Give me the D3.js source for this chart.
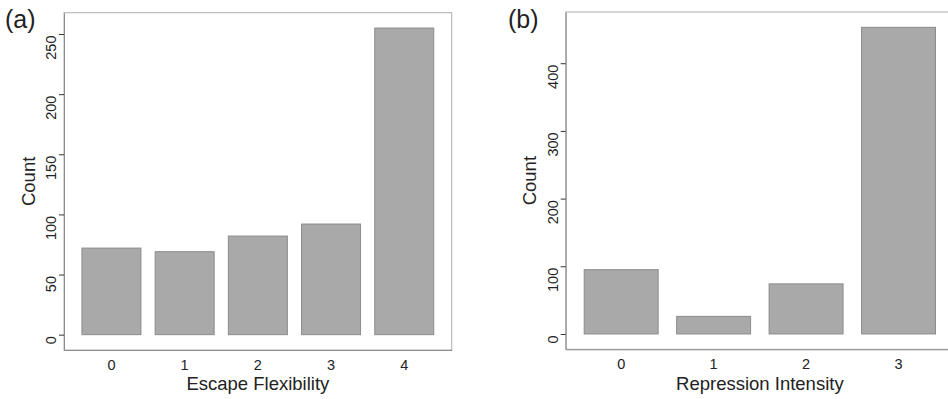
<!DOCTYPE html>
<html>
<head>
<meta charset="utf-8">
<script src="https://cdn.jsdelivr.net/npm/d3@7"></script>
<style>
  body { margin: 0; background: #fff; }
  svg, svg text { font-family: "Liberation Sans", Arial, sans-serif; }
</style>
</head>
<body>
<svg id="chart" width="948" height="399"></svg>
<script>
// panel (a)
const escapeCats = ["0", "1", "2", "3", "4"];
const escapeCounts = [72, 69, 82, 92, 255];
const escapeTicks = [0, 50, 100, 150, 200, 250];

// panel (b)
const repressCats = ["0", "1", "2", "3"];
const repressCounts = [95, 26, 74, 453];
const repressTicks = [0, 100, 200, 300, 400];

const svg = d3.select("#chart");

function drawPanel(opts) {
    const { cats, counts, ticks, left, right, top, bottom, padIn, padOut, xTitle, tag, tagX, countX } = opts;

    const g = svg.append("g");

    const maxVal = d3.max(counts);
    const yScale = d3.scaleLinear()
        .domain([-0.05 * maxVal, 1.05 * maxVal])
        .range([bottom, top]);

    const xScale = d3.scaleBand()
        .domain(cats)
        .range([left, right])
        .paddingInner(padIn)
        .paddingOuter(padOut);

    // frame
    g.append("rect")
        .attr("x", left)
        .attr("y", top)
        .attr("width", right - left)
        .attr("height", bottom - top)
        .attr("fill", "none")
        .attr("stroke", "#b0b0b0")
        .attr("stroke-width", 1);

    // bars
    g.selectAll(".bar")
        .data(counts)
        .enter()
        .append("rect")
        .attr("class", "bar")
        .attr("x", (d, i) => xScale(cats[i]))
        .attr("y", d => yScale(d))
        .attr("width", xScale.bandwidth())
        .attr("height", d => yScale(0) - yScale(d))
        .attr("fill", "#a9a9a9")
        .attr("stroke", "#8c8c8c")
        .attr("stroke-width", 1);

    // y axis
    const yAxis = g.append("g")
        .attr("transform", `translate(${left},0)`)
        .call(d3.axisLeft(yScale).tickValues(ticks).tickSize(5).tickSizeOuter(0))
        .attr("font-family", null)
        .attr("font-size", null);
    yAxis.select(".domain").attr("stroke", "#8c8c8c");
    yAxis.selectAll(".tick line").attr("stroke", "#333");
    yAxis.selectAll(".tick text")
        .attr("x", 0)
        .attr("dy", 0)
        .attr("transform", "translate(-8,1) rotate(-90)")
        .attr("text-anchor", "end")
        .style("font-size", "14.5px")
        .attr("fill", "#222");

    // x axis
    const xAxis = g.append("g")
        .attr("transform", `translate(0,${bottom})`)
        .call(d3.axisBottom(xScale).tickSize(0).tickSizeOuter(0))
        .attr("font-family", null)
        .attr("font-size", null);
    xAxis.select(".domain").attr("stroke", "#8c8c8c");
    xAxis.selectAll(".tick text")
        .attr("y", 20)
        .attr("dy", 0)
        .style("font-size", "14.5px")
        .attr("fill", "#222");

    // titles
    g.append("text")
        .attr("x", (left + right) / 2)
        .attr("y", 390)
        .attr("text-anchor", "middle")
        .style("font-size", "18.5px")
        .attr("fill", "#222")
        .text(xTitle);

    g.append("text")
        .attr("transform", `translate(${countX},${(top + bottom) / 2}) rotate(-90)`)
        .attr("text-anchor", "middle")
        .style("font-size", "18.5px")
        .attr("fill", "#222")
        .text("Count");

    g.append("text")
        .attr("x", tagX)
        .attr("y", 28)
        .style("font-size", "25px")
        .attr("fill", "#222")
        .text(tag);
}

drawPanel({
    cats: escapeCats, counts: escapeCounts, ticks: escapeTicks,
    left: 64, right: 451.7, top: 12.7, bottom: 350,
    padIn: 0.194, padOut: 0.245,
    xTitle: "Escape Flexibility", tag: "(a)", tagX: 5, countX: 35
});

drawPanel({
    cats: repressCats, counts: repressCounts, ticks: repressTicks,
    left: 565.7, right: 954, top: 12, bottom: 349.3,
    padIn: 0.2, padOut: 0.2,
    xTitle: "Repression Intensity", tag: "(b)", tagX: 508, countX: 536
});
</script>
</body>
</html>
